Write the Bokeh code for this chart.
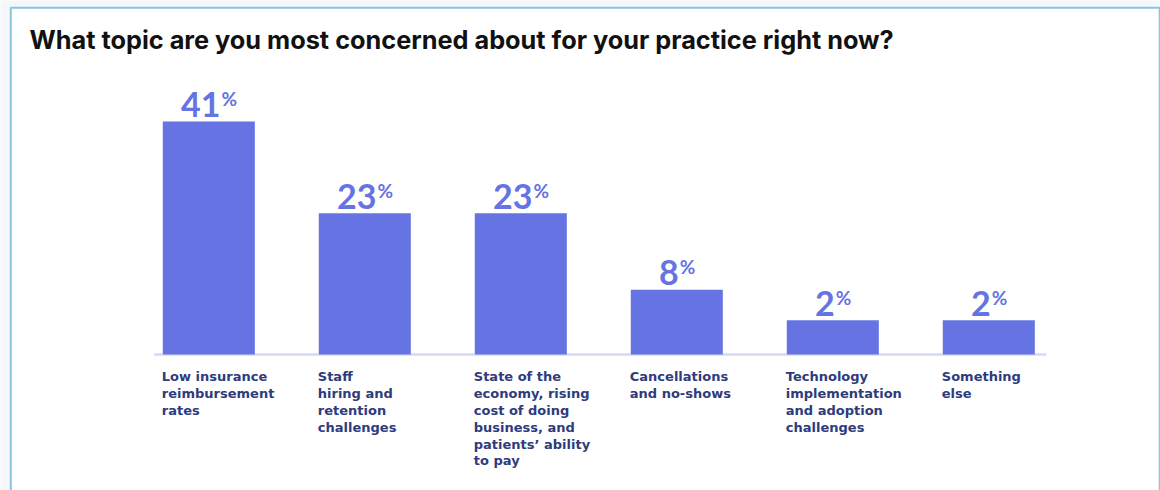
from bokeh.plotting import figure
from bokeh.models import Range1d, ColumnDataSource
from bokeh.core.properties import value
from bokeh.embed import file_html
from bokeh.resources import INLINE

# ---------------- data ----------------
title = "What topic are you most concerned about for your practice right now?"
categories = [
    "Low insurance\nreimbursement\nrates",
    "Staff\nhiring and\nretention\nchallenges",
    "State of the\neconomy, rising\ncost of doing\nbusiness, and\npatients\u2019 ability\nto pay",
    "Cancellations\nand no-shows",
    "Technology\nimplementation\nand adoption\nchallenges",
    "Something\nelse",
]
values = [41, 23, 23, 8, 2, 2]

# ---------------- style / layout ----------------
W, H = 1160, 490
BAR_COLOR = "#6674E3"
NUM_COLOR = "#6573E3"
LABEL_COLOR = "#2E3B7D"
BAR_W = 0.59
BASE = -4.7            # bar bottom (axis baseline) in value units
NUM_FS = 34
DIGIT_W = 0.58 * NUM_FS
PCT_W = 16

n = len(values)
idx = list(range(n))
num_text = [str(v) for v in values]
num_off = [(len(s) * DIGIT_W - PCT_W) / 2 for s in num_text]

p = figure(width=W, height=H, title=None,
           x_range=Range1d(-1.3353, 6.1006), y_range=Range1d(-31.37, 64.71),
           x_axis_location=None, y_axis_location=None,
           output_backend="svg", toolbar_location=None, min_border=0)
p.min_border_left = p.min_border_right = p.min_border_top = p.min_border_bottom = 0
p.grid.visible = False
p.outline_line_color = None
p.background_fill_color = "#F4F8FB"
p.border_fill_color = "#F4F8FB"
p.extra_x_ranges = {"px": Range1d(0, W)}
p.extra_y_ranges = {"py": Range1d(H, 0)}

# card
p.quad(left=[10.3], right=[1159.2], top=[7.3], bottom=[H + 10],
       x_range_name="px", y_range_name="py",
       fill_color="white", line_color="#8BC3E1", line_width=2)

# title
p.text(x=[29], y=[39], text=[title], x_range_name="px", y_range_name="py",
       text_font=value("Inter"), text_font_style="bold",
       text_font_size="25.3px", text_color="#111111",
       text_align="left", text_baseline="alphabetic")

# baseline
p.segment(x0=[-0.35], y0=[BASE], x1=[n - 1 + 0.37], y1=[BASE],
          line_color="#D5DAF6", line_width=2.5)

src = ColumnDataSource(dict(
    x=idx, top=values, num=num_text, off=num_off,
    pct_off=[o + 1 for o in num_off], pct=["%"] * n,
    lx=[i - BAR_W / 2 for i in idx], cat=categories, base=[BASE] * n,
))

p.vbar(x="x", top="top", bottom=BASE, width=BAR_W, source=src,
       fill_color=BAR_COLOR, line_color=None)

p.text(x="x", y="top", text="num", x_offset="off", y_offset=-17, source=src,
       text_font=value("Lato"), text_font_style="bold",
       text_font_size=f"{NUM_FS}px", text_color=NUM_COLOR,
       text_align="right", text_baseline="alphabetic")
p.text(x="x", y="top", text="pct", x_offset="pct_off", y_offset=-23, source=src,
       text_font=value("Lato"), text_font_style="bold",
       text_font_size="19px", text_color=NUM_COLOR,
       text_align="left", text_baseline="alphabetic")

p.text(x="lx", y="base", text="cat", x_offset=-1, y_offset=15, source=src,
       text_font=value("DejaVu Sans"), text_font_style="bold",
       text_font_size="13px", text_color=LABEL_COLOR, text_line_height=1.12,
       text_align="left", text_baseline="top")

open("out.html", "w").write(file_html(p, INLINE))
